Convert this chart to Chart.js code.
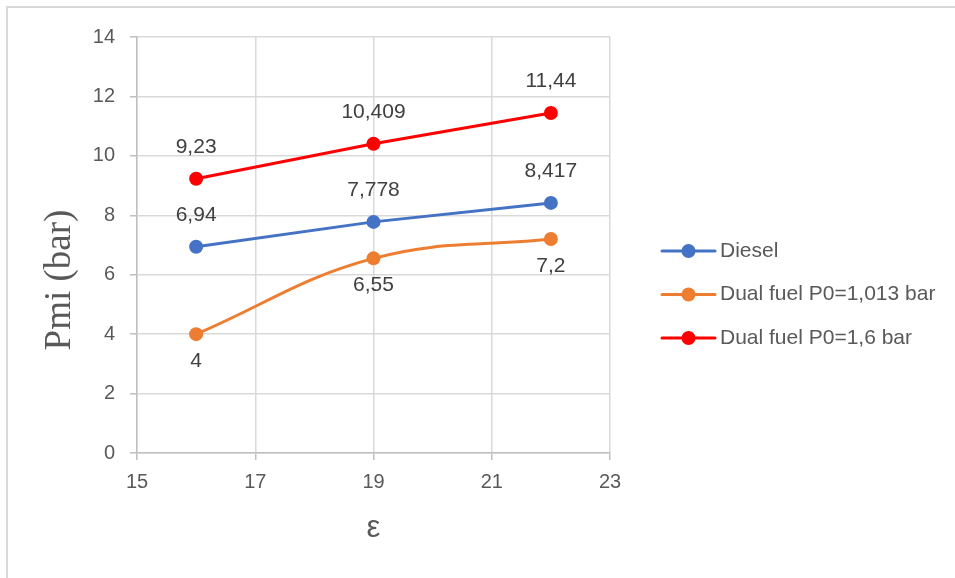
<!DOCTYPE html>
<html>
<head>
<meta charset="utf-8">
<script src="https://cdn.jsdelivr.net/npm/chart.js@4/dist/chart.umd.min.js"></script>
<style>
  html, body { margin: 0; padding: 0; background: #ffffff; }
  #wrap { width: 955px; height: 578px; position: relative; }
</style>
</head>
<body>
<div id="wrap"><canvas id="chart" width="955" height="578"></canvas></div>
<script>
// Compression ratio values on the x axis
const epsilon = [16, 19, 22];

// Indicated mean pressure (bar) per configuration
const diesel = [6.94, 7.778, 8.417];
const dualFuel1013 = [4, 6.55, 7.2];
const dualFuel16 = [9.23, 10.409, 11.44];

const seriesNames = ['Diesel', 'Dual fuel P0=1,013 bar', 'Dual fuel P0=1,6 bar'];
const yTicks = [0, 2, 4, 6, 8, 10, 12, 14];
const xTicks = [15, 17, 19, 21, 23];

const FONT = '"Liberation Sans", Arial, sans-serif';
const GRID = '#d9d9d9';
const AXIS = '#bfbfbf';
const TEXT = '#595959';

function toXY(values) {
  return values.map((v, i) => ({ x: epsilon[i], y: v }));
}

function decimalComma(v) {
  return String(v).replace('.', ',');
}

// Outer frame, y-axis title, value labels and the legend on the right
const decorations = {
  id: 'decorations',
  beforeDraw(chart) {
    const ctx = chart.ctx;
    ctx.save();
    ctx.strokeStyle = '#d9d9d9';
    ctx.lineWidth = 2;
    ctx.beginPath();
    ctx.moveTo(7, chart.height);
    ctx.lineTo(7, 7);
    ctx.lineTo(chart.width, 7);
    ctx.stroke();
    ctx.restore();
  },
  afterDatasetsDraw(chart) {
    const ctx = chart.ctx;
    ctx.save();
    // value labels
    ctx.font = '21px ' + FONT;
    ctx.fillStyle = '#404040';
    ctx.textAlign = 'center';
    ctx.textBaseline = 'middle';
    chart.data.datasets.forEach((ds, di) => {
      const meta = chart.getDatasetMeta(di);
      meta.data.forEach((pt, i) => {
        const off = ds.labelSide === 'below' ? 27 : -32;
        ctx.fillText(decimalComma(ds.data[i].y), pt.x, pt.y + off);
      });
    });

    // y-axis title
    ctx.save();
    ctx.translate(60, 280);
    ctx.rotate(-Math.PI / 2);
    ctx.font = '37px "Liberation Serif", "Times New Roman", serif';
    ctx.fillStyle = TEXT;
    ctx.textAlign = 'center';
    ctx.textBaseline = 'middle';
    ctx.fillText('Pmi (bar)', 0, 0);
    ctx.restore();

    // legend
    const lx = 662, lw = 53, tx = 720;
    const rows = [251, 294.5, 338];
    chart.data.datasets.forEach((ds, di) => {
      const y = rows[di];
      ctx.strokeStyle = ds.borderColor;
      ctx.lineWidth = 3;
      ctx.lineCap = 'round';
      ctx.beginPath();
      ctx.moveTo(lx, y);
      ctx.lineTo(lx + lw, y);
      ctx.stroke();
      ctx.fillStyle = ds.backgroundColor;
      ctx.beginPath();
      ctx.arc(lx + lw / 2, y, 7, 0, Math.PI * 2);
      ctx.fill();
      ctx.font = '21px ' + FONT;
      ctx.fillStyle = TEXT;
      ctx.textAlign = 'left';
      ctx.textBaseline = 'middle';
      ctx.fillText(ds.label, tx, y);
    });
    ctx.restore();
  }
};

new Chart(document.getElementById('chart'), {
  type: 'line',
  data: {
    datasets: [
      {
        label: seriesNames[0],
        data: toXY(diesel),
        borderColor: '#4472C4',
        backgroundColor: '#4472C4',
        labelSide: 'above',
        tension: 0
      },
      {
        label: seriesNames[1],
        data: toXY(dualFuel1013),
        borderColor: '#ED7D31',
        backgroundColor: '#ED7D31',
        labelSide: 'below',
        tension: 0.4
      },
      {
        label: seriesNames[2],
        data: toXY(dualFuel16),
        borderColor: '#FF0000',
        backgroundColor: '#FF0000',
        labelSide: 'above',
        tension: 0
      }
    ]
  },
  options: {
    responsive: false,
    devicePixelRatio: 1,
    animation: false,
    events: [],
    layout: { padding: { left: 0, top: 37, right: 345, bottom: 0 } },
    elements: {
      line: { borderWidth: 3, fill: false },
      point: { radius: 7, borderWidth: 0, hoverRadius: 7 }
    },
    plugins: {
      legend: { display: false },
      tooltip: { enabled: false }
    },
    scales: {
      x: {
        type: 'linear',
        min: xTicks[0],
        max: xTicks[xTicks.length - 1],
        afterFit(scale) { scale.height = 125; },
        afterBuildTicks(scale) { scale.ticks = xTicks.map(v => ({ value: v })); },
        grid: { color: GRID, lineWidth: 1.5, tickLength: 7, tickColor: AXIS },
        border: { color: AXIS, width: 1.5 },
        ticks: { color: TEXT, font: { family: FONT, size: 20 }, padding: 10 },
        title: {
          display: true,
          text: 'ε',
          color: TEXT,
          font: { family: FONT, size: 31 },
          padding: { top: 0, bottom: 31 }
        }
      },
      y: {
        type: 'linear',
        min: yTicks[0],
        max: yTicks[yTicks.length - 1],
        afterFit(scale) { scale.width = 137; },
        afterBuildTicks(scale) { scale.ticks = yTicks.map(v => ({ value: v })); },
        grid: { color: GRID, lineWidth: 1.5, tickLength: 7, tickColor: AXIS },
        border: { color: AXIS, width: 1.5 },
        ticks: { color: TEXT, font: { family: FONT, size: 20 }, padding: 15 }
      }
    }
  },
  plugins: [decorations]
});
</script>
</body>
</html>
